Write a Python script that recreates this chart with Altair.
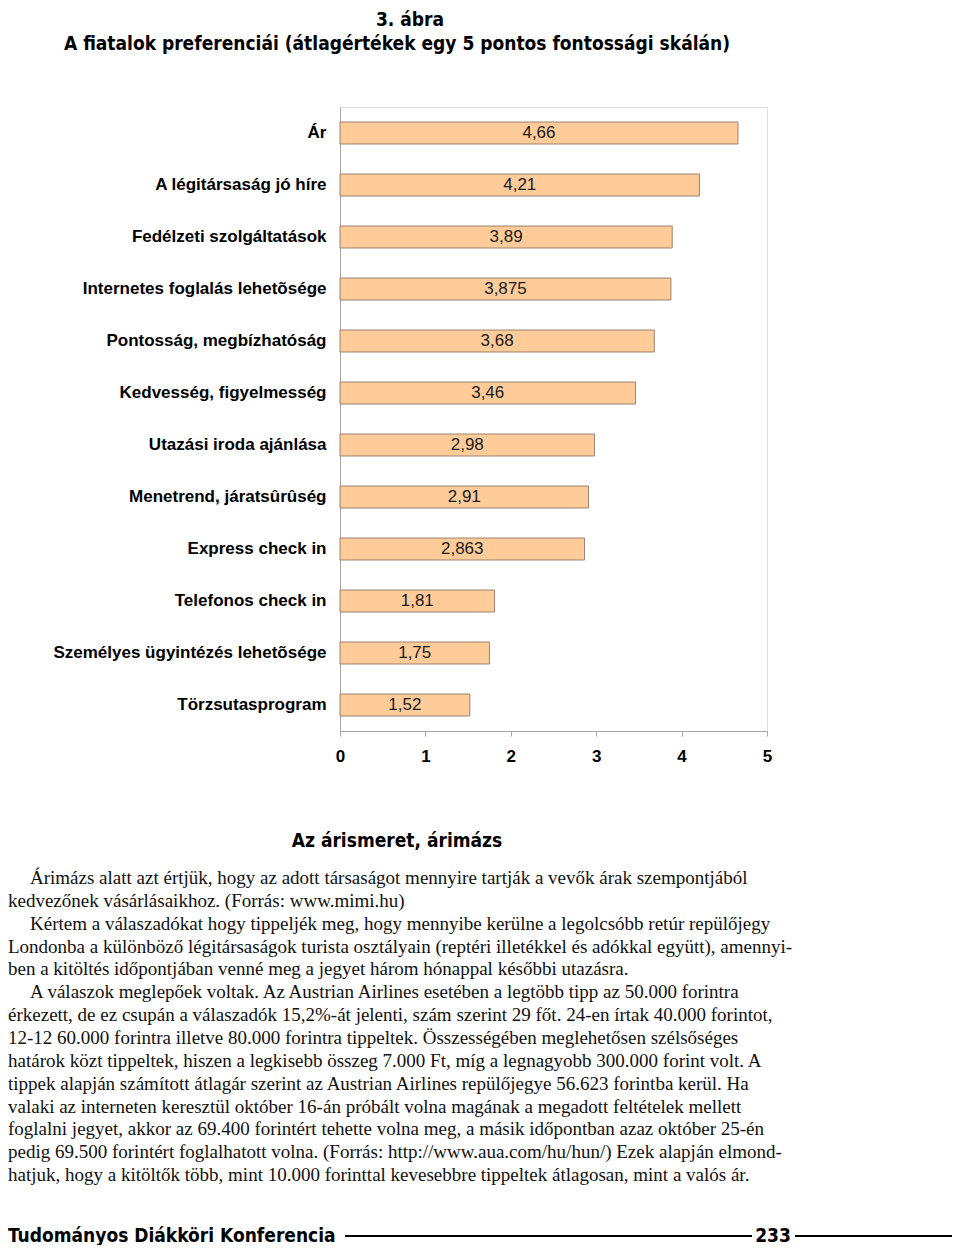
import altair as alt
import pandas as pd

# ---- data -------------------------------------------------------------
categories = [
    "Ár",
    "A légitársaság jó híre",
    "Fedélzeti szolgáltatások",
    "Internetes foglalás lehetõsége",
    "Pontosság, megbízhatóság",
    "Kedvesség, figyelmesség",
    "Utazási iroda ajánlása",
    "Menetrend, járatsûrûség",
    "Express check in",
    "Telefonos check in",
    "Személyes ügyintézés lehetõsége",
    "Törzsutasprogram",
]
values = [4.66, 4.21, 3.89, 3.875, 3.68, 3.46, 2.98, 2.91, 2.863, 1.81, 1.75, 1.52]
value_labels = ["4,66", "4,21", "3,89", "3,875", "3,68", "3,46", "2,98", "2,91",
                "2,863", "1,81", "1,75", "1,52"]
x_ticks = [0, 1, 2, 3, 4, 5]

fig_label = "3. ábra"
fig_title = "A fiatalok preferenciái (átlagértékek egy 5 pontos fontossági skálán)"
section_title = "Az árismeret, árimázs"
body_lines = [
    "Árimázs alatt azt értjük, hogy az adott társaságot mennyire tartják a vevők árak szempontjából",
    "kedvezőnek vásárlásaikhoz. (Forrás: www.mimi.hu)",
    "Kértem a válaszadókat hogy tippeljék meg, hogy mennyibe kerülne a legolcsóbb retúr repülőjegy",
    "Londonba a különböző légitársaságok turista osztályain (reptéri illetékkel és adókkal együtt), amennyi-",
    "ben a kitöltés időpontjában venné meg a jegyet három hónappal későbbi utazásra.",
    "A válaszok meglepőek voltak. Az Austrian Airlines esetében a legtöbb tipp az 50.000 forintra",
    "érkezett, de ez csupán a válaszadók 15,2%-át jelenti, szám szerint 29 főt. 24-en írtak 40.000 forintot,",
    "12-12 60.000 forintra illetve 80.000 forintra tippeltek. Összességében meglehetősen szélsőséges",
    "határok közt tippeltek, hiszen a legkisebb összeg 7.000 Ft, míg a legnagyobb 300.000 forint volt. A",
    "tippek alapján számított átlagár szerint az Austrian Airlines repülőjegye 56.623 forintba kerül. Ha",
    "valaki az interneten keresztül október 16-án próbált volna magának a megadott feltételek mellett",
    "foglalni jegyet, akkor az 69.400 forintért tehette volna meg, a másik időpontban azaz október 25-én",
    "pedig 69.500 forintért foglalhatott volna. (Forrás: http://www.aua.com/hu/hun/) Ezek alapján elmond-",
    "hatjuk, hogy a kitöltők több, mint 10.000 forinttal kevesebbre tippeltek átlagosan, mint a valós ár.",
]
paragraph_starts = [0, 2, 5]
footer_left = "Tudományos Diákköri Konferencia"
footer_page = "233"

# ---- styling ----------------------------------------------------------
SANS = "'Liberation Sans', Arial, sans-serif"
COND = "'Liberation Sans Narrow', 'DejaVu Sans Condensed', 'Roboto Condensed', 'Liberation Sans', sans-serif"
SERIF = "'Liberation Serif', 'Times New Roman', serif"

df = pd.DataFrame({"cat": categories, "val": values, "lab": value_labels})

W, H = 427, 624
one = alt.Data(values=[{}])

y_enc = alt.Y(
    "cat:N",
    sort=None,
    scale=alt.Scale(paddingInner=0.577, paddingOuter=0.2885),
    axis=alt.Axis(
        title=None, ticks=False, labelFont=SANS, labelFontWeight="bold",
        labelFontSize=17, labelColor="#000", labelPadding=14,
        domainColor="#a6a6a6", labelLimit=400,
    ),
)
x_enc = alt.X(
    "val:Q",
    scale=alt.Scale(domain=[0, 5], nice=False),
    axis=alt.Axis(
        title=None, values=x_ticks, format="d", grid=False, labelFont=SANS,
        labelFontWeight="bold", labelFontSize=17, labelColor="#000",
        labelPadding=12, tickSize=5, tickColor="#a6a6a6", domainColor="#a6a6a6",
        labelFlush=False,
    ),
)

bars = alt.Chart(df).mark_bar(
    color="#FFCC99", stroke="#9c8270", strokeWidth=1
).encode(x=x_enc, y=y_enc)

labels = alt.Chart(df).transform_calculate(mid="datum.val / 2").mark_text(
    font=SANS, fontSize=17, color="#1a1a1a", baseline="middle", align="center"
).encode(x=alt.X("mid:Q"), y=alt.Y("cat:N", sort=None), text="lab:N")


def txt(text, x, y, **kw):
    return alt.Chart(one).mark_text(text=text, **kw).encode(
        x=alt.value(x), y=alt.value(y)
    )


head_kw = dict(font=COND, fontWeight="bold", baseline="alphabetic", color="#000")
t1 = txt(fig_label, 70, -81, fontSize=19, align="center", **head_kw)
t2 = txt(fig_title, 57, -57, fontSize=19, align="center", **head_kw)
t3 = txt(section_title, 57, 740, fontSize=19, align="center", **head_kw)

LINE_H = 22.85
BODY_Y0 = 777
body_layers = []
for i, line in enumerate(body_lines):
    x0 = -310 if i in paragraph_starts else -332
    body_layers.append(
        txt(line, x0, BODY_Y0 + i * LINE_H, font=SERIF, fontSize=19,
            align="left", baseline="alphabetic", color="#111")
    )

foot1 = txt(footer_left, -332, 1135, fontSize=19, align="left", **head_kw)
foot2 = txt(footer_page, 433, 1135, fontSize=19, align="center", **head_kw)

rule1 = alt.Chart(one).mark_rule(color="#000", strokeWidth=2).encode(
    x=alt.value(5), x2=alt.value(412), y=alt.value(1129))
rule2 = alt.Chart(one).mark_rule(color="#000", strokeWidth=2).encode(
    x=alt.value(455), x2=alt.value(620), y=alt.value(1129))

chart = alt.layer(
    bars, labels, t1, t2, t3, *body_layers, foot1, foot2, rule1, rule2
).properties(
    width=W, height=H,
    autosize=alt.AutoSizeParams(type="none"),
    padding={"left": 332, "top": 99, "right": 185, "bottom": 514},
).configure_view(stroke=None).configure(background="white")

chart.save("out.html", embed_options={"renderer": "svg", "actions": False})
